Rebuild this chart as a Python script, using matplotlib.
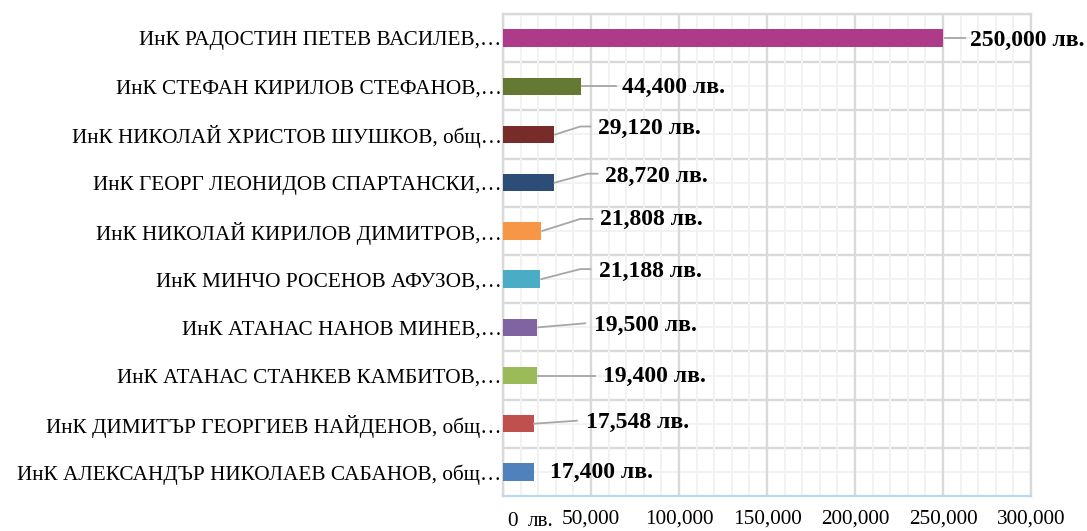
import matplotlib
matplotlib.use('Agg')
import matplotlib.pyplot as plt
import matplotlib.transforms as mtransforms
from matplotlib.ticker import MultipleLocator, FuncFormatter

# categories, top to bottom
names = [
    'ИнК РАДОСТИН ПЕТЕВ ВАСИЛЕВ,…',
    'ИнК СТЕФАН КИРИЛОВ СТЕФАНОВ,…',
    'ИнК НИКОЛАЙ ХРИСТОВ ШУШКОВ, общ…',
    'ИнК ГЕОРГ ЛЕОНИДОВ СПАРТАНСКИ,…',
    'ИнК НИКОЛАЙ КИРИЛОВ ДИМИТРОВ,…',
    'ИнК МИНЧО РОСЕНОВ АФУЗОВ,…',
    'ИнК АТАНАС НАНОВ МИНЕВ,…',
    'ИнК АТАНАС СТАНКЕВ КАМБИТОВ,…',
    'ИнК ДИМИТЪР ГЕОРГИЕВ НАЙДЕНОВ, общ…',
    'ИнК АЛЕКСАНДЪР НИКОЛАЕВ САБАНОВ, общ…',
]
amounts = [250000, 44400, 29120, 28720, 21808, 21188, 19500, 19400, 17548, 17400]
x_ticks = [0, 50000, 100000, 150000, 200000, 250000, 300000]

colors = ['#AE3A8A', '#647A33', '#772C2A', '#2C4D75', '#F79646',
          '#4BACC6', '#8064A2', '#9BBB59', '#C0504D', '#4F81BD']

# label placement in pixels relative to (bar end, bar center); y down
label_off = [(27, 2), (41, 1), (44, -6), (51, -6), (59, -11),
             (59, -8), (57, -2), (66, 1), (52, -1), (16, 1)]
leaders = [
    [(2, 0), (22, 0)],
    [(1, 0), (35, 0)],
    [(1, 0), (26, -8), (36, -8)],
    [(1, 0), (34, -9), (44, -9)],
    [(1, 0), (39, -12), (51, -12)],
    [(1, 0), (40, -10), (50, -10)],
    [(1, 0), (48, -4)],
    [(0, 0), (58, 0)],
    [(0, 0), (43, -3)],
    None,
]

serif = ['Liberation Serif', 'DejaVu Serif']

fig = plt.figure(figsize=(10.87, 5.31), dpi=100)
ax = fig.add_axes([503 / 1087, 1 - 496 / 531, 528 / 1087, 482 / 531])

ypos = list(range(len(names)))
ax.barh(ypos, amounts, height=0.36, color=colors, zorder=3)

ax.set_xlim(0, 300000)
ax.set_ylim(len(names) - 0.5, -0.5)

# gridlines
ax.xaxis.set_major_locator(MultipleLocator(50000))
ax.xaxis.set_minor_locator(MultipleLocator(10000))
ax.grid(which='major', axis='x', color='#D9D9D9', lw=1.7, zorder=1)
ax.grid(which='minor', axis='x', color='#F2F2F2', lw=1.4, zorder=0)
for i in ypos:
    ax.axhline(i, color='#F2F2F2', lw=1.4, zorder=0)
    ax.axhline(i - 0.5, color='#D9D9D9', lw=1.7, zorder=1)

for side in ['top', 'right', 'left']:
    ax.spines[side].set_color('#D9D9D9')
    ax.spines[side].set_linewidth(1.7)
ax.spines['bottom'].set_color('#BDD7EE')
ax.spines['bottom'].set_linewidth(1.6)

ax.set_yticks(ypos)
ax.set_yticklabels(names, family=serif, fontsize=15.3)
ax.tick_params(axis='y', length=0, pad=1)

ax.set_xticks(x_ticks)
ax.xaxis.set_major_formatter(FuncFormatter(lambda v, p: '' if v == 0 else f'{int(v):,}'))
ax.tick_params(axis='x', which='both', length=0, pad=10)
for lab in ax.get_xticklabels():
    lab.set_family(serif)
    lab.set_fontsize(15.3)

# the "0 лв." label
ax.annotate('0', xy=(0, 0), xycoords=('data', 'axes fraction'),
            xytext=(10, -25), textcoords='offset pixels',
            ha='center', va='center', family=serif, fontsize=15.3)
ax.annotate('лв.', xy=(0, 0), xycoords=('data', 'axes fraction'),
            xytext=(38, -26), textcoords='offset pixels',
            ha='center', va='center', family=serif, fontsize=15.3)

fig.canvas.draw()
for i, v in enumerate(amounts):
    dx, dy = label_off[i]
    ax.annotate(f'{v:,} лв.', xy=(v, i), xytext=(dx, -dy),
                textcoords='offset pixels', ha='left', va='center',
                family=serif, fontsize=17, fontweight='bold', zorder=5,
                annotation_clip=False)
    if leaders[i] is not None:
        bx, by = ax.transData.transform((v, i))
        xs = [bx + p[0] for p in leaders[i]]
        ys = [by - p[1] for p in leaders[i]]
        ax.plot(xs, ys, color='#A6A6A6', lw=1.3, transform=mtransforms.IdentityTransform(),
                clip_on=False, zorder=4)

fig.savefig('out.png', dpi=100)
